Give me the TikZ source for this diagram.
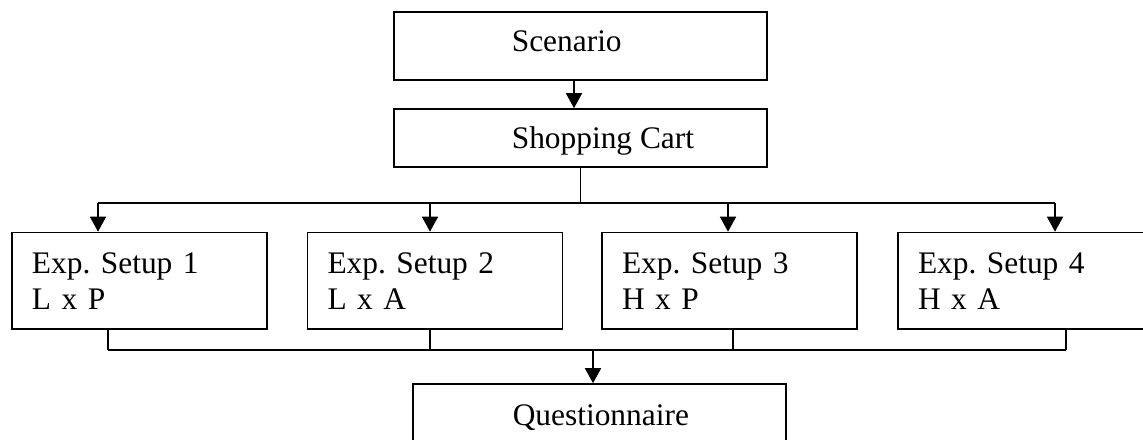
\documentclass[tikz,border=0pt]{standalone}
\usepackage{fontspec}
\setmainfont{Liberation Serif}
\usetikzlibrary{arrows.meta}
\frenchspacing

\begin{document}
\begin{tikzpicture}[x=0.5pt, y=-0.5pt, line width=0.8pt,
  font=\fontsize{15.7}{18}\selectfont,
  box/.style={draw, rectangle, inner sep=0pt},
  widebox/.style={box, minimum width=186.5pt},
  label text/.style={anchor=base west, inner sep=0pt},
  expbox/.style={box, minimum width=127.5pt, minimum height=48.25pt,
    text width=107.5pt, inner xsep=10pt, align=left},
  arr/.style={-{Triangle[width=8pt, length=7.5pt]}}]
  % frame of the picture
  \useasboundingbox (0,0) rectangle (1143,439);
  \clip (0,0) rectangle (1143,439);

  % top boxes
  \node[widebox, minimum height=34pt] (scen) at (580.5,46) {};
  \node[label text] (scentxt) at (511,51) {Scenario};
  \node[widebox, minimum height=29pt] (cart) at (580.5,138) {};
  \node[label text] (carttxt) at (511,148) {Shopping Cart};
  \draw[arr] ([xshift=-3.25pt]scen.south) -- ([xshift=-3.25pt]cart.north);

  % the four setups
  \node[expbox] (exp1) at (139.5,280.75) {Exp. Setup 1\\L x P};
  \node[expbox] (exp2) at (435,280.75) {Exp. Setup 2\\L x A};
  \node[expbox] (exp3) at (729.5,280.75) {Exp. Setup 3\\H x P};
  \node[expbox] (exp4) at (1025.5,280.75) {Exp. Setup 4\\H x A};

  % bottom box
  \node[widebox, minimum height=29pt] (quest) at (599.5,413) {};
  \node[label text] (questtxt) at (512,425) {Questionnaire};

  % split from the cart
  \coordinate (split) at (580.5,203);
  \coordinate (t1) at (98,203);
  \coordinate (t2) at (430,203);
  \coordinate (t3) at (728,203);
  \coordinate (t4) at (1055,203);
  \draw (cart.south) -- (split);
  \draw (t1) -- (t4);
  \foreach \i in {1,...,4}
    \draw[arr] (t\i) -- (t\i |- exp\i.north);

  % join into the questionnaire
  \coordinate (b1) at (108,350);
  \coordinate (b2) at (430,350);
  \coordinate (b3) at (733,350);
  \coordinate (b4) at (1066,350);
  \coordinate (join) at (593,350);
  \foreach \i in {1,...,4}
    \draw (exp\i.south -| b\i) -- (b\i);
  \draw (b1) -- (b4);
  \draw[arr] (join) -- (join |- quest.north);
\end{tikzpicture}
\end{document}
